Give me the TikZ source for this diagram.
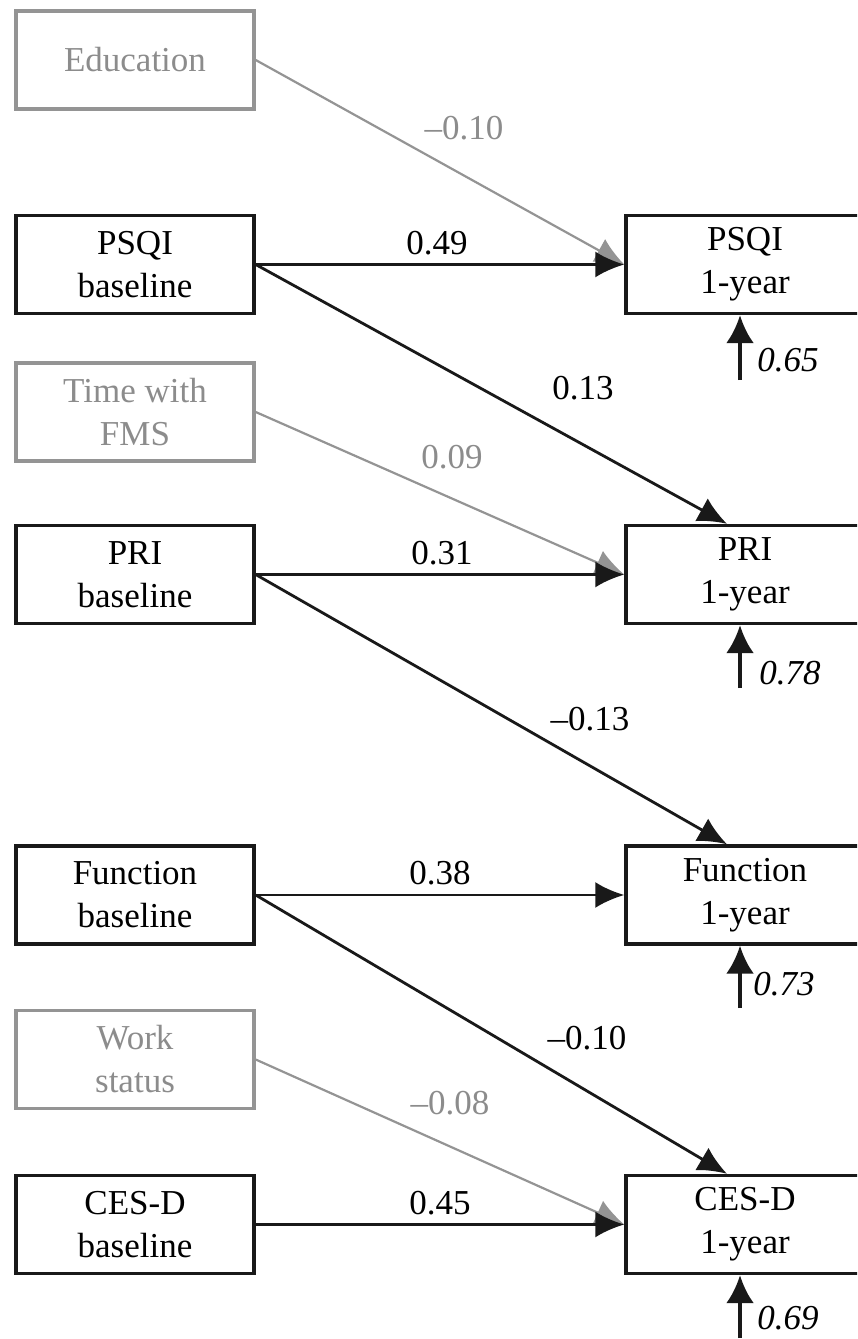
\documentclass[tikz,border=0pt]{standalone}
\usepackage{fontspec}
\setmainfont{Liberation Serif}
\usetikzlibrary{arrows.meta}

\begin{document}
\begin{tikzpicture}[x=0.5pt,y=-0.5pt,>={Latex[length=14.5pt,width=13pt]},
block/.style={draw=black!90,line width=1.7pt,minimum width=119pt,minimum height=49pt,inner sep=0pt,align=center,font=\fontsize{17.5}{21.5}\selectfont},
covar/.style={block,draw=black!42,text=black!45},
flow/.style={->,line width=1.4pt,draw=black!90},
covflow/.style={->,line width=1.1pt,draw=black!42},
resid/.style={-{Latex[length=14pt,width=14pt]},line width=2pt,draw=black!90},
lab/.style={font=\fontsize{17.5}{21.5}\selectfont,inner sep=0pt},
covlab/.style={lab,text=black!45},
errlab/.style={lab,font=\fontsize{17.5}{21.5}\selectfont\itshape}]
\clip (0,0) rectangle (857,1339);
% baseline measures and covariates
\node[covar] (edu) at (135,60) {Education};
\node[block] (psqiB) at (135,264.5) {PSQI\\baseline};
\node[covar] (fms) at (135,412) {Time with\\FMS};
\node[block] (priB) at (135,574.5) {PRI\\baseline};
\node[block] (funB) at (135,895) {Function\\baseline};
\node[covar] (work) at (135,1059.5) {Work\\status};
\node[block] (cesB) at (135,1224.5) {CES-D\\baseline};
% 1-year outcomes
\node[block] (psqiY) at (745,264.5) {PSQI\\1-year};
\node[block] (priY) at (745,574.5) {PRI\\1-year};
\node[block] (funY) at (745,895) {Function\\1-year};
\node[block] (cesY) at (745,1224.5) {CES-D\\1-year};
% paths
\draw[covflow] (edu.east)--(psqiY.west) node[covlab] (w1) at (464,128) {–0.10};
\draw[flow] (psqiB.east)--(psqiY.west) node[lab] (w2) at (437,243) {0.49};
\draw[flow] (psqiB.east)--([xshift=-9pt]priY.north) node[lab] (w3) at (583,388) {0.13};
\draw[covflow] (fms.east)--(priY.west) node[covlab] (w4) at (452,457) {0.09};
\draw[flow] (priB.east)--(priY.west) node[lab] (w5) at (442,553) {0.31};
\draw[flow] (priB.east)--([xshift=-9pt]funY.north) node[lab] (w6) at (590,719) {–0.13};
\draw[flow] (funB.east)--(funY.west) node[lab] (w7) at (440,873) {0.38};
\draw[flow] (funB.east)--([xshift=-9pt]cesY.north) node[lab] (w8) at (587,1038) {–0.10};
\draw[covflow] (work.east)--(cesY.west) node[covlab] (w9) at (450,1103) {–0.08};
\draw[flow] (cesB.east)--(cesY.west) node[lab] (w10) at (440,1203) {0.45};
% residuals
\coordinate (e1) at (740,380);
\coordinate (e2) at (740,688);
\coordinate (e3) at (740,1008);
\coordinate (e4) at (740,1338);
\draw[resid] (e1)--(e1 |- psqiY.south);
\draw[resid] (e2)--(e2 |- priY.south);
\draw[resid] (e3)--(e3 |- funY.south);
\draw[resid] (e4)--(e4 |- cesY.south);
\node[errlab] (v1) at (788,360) {0.65};
\node[errlab] (v2) at (790,673) {0.78};
\node[errlab] (v3) at (784,984) {0.73};
\node[errlab] (v4) at (788,1318) {0.69};
\end{tikzpicture}
\end{document}
